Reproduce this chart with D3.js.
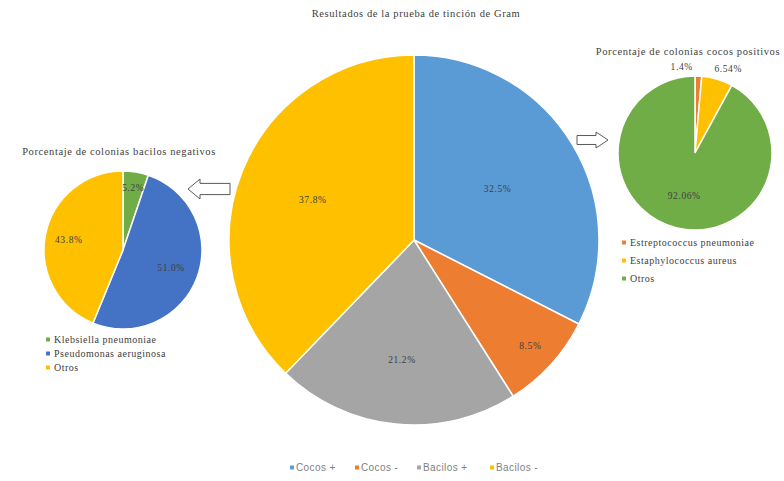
<!DOCTYPE html>
<html>
<head>
<meta charset="utf-8">
<script src="https://cdn.jsdelivr.net/npm/d3@7"></script>
<style>
  body { margin: 0; background: #fff; }
  svg { display: block; font-family: "Liberation Serif", serif; }
</style>
</head>
<body>
<figure id="chart" style="margin:0"></figure>
<script>
// main pie
var mainCats = ["Cocos +", "Cocos -", "Bacilos +", "Bacilos -"];
var mainValues = [32.5, 8.5, 21.2, 37.8];
var mainLabels = ["32.5%", "8.5%", "21.2%", "37.8%"];
var mainColors = ["#5b9bd5", "#ed7d31", "#a5a5a5", "#ffc000"];

// bacilos negativos
var leftCats = ["Klebsiella pneumoniae", "Pseudomonas aeruginosa", "Otros"];
var leftValues = [5.2, 51.0, 43.8];
var leftLabels = ["5.2%", "51.0%", "43.8%"];
var leftColors = ["#70ad47", "#4472c4", "#ffc000"];

// cocos positivos
var rightCats = ["Estreptococcus pneumoniae", "Estaphylococcus aureus", "Otros"];
var rightValues = [1.4, 6.54, 92.06];
var rightLabels = ["1.4%", "6.54%", "92.06%"];
var rightColors = ["#ed7d31", "#ffc000", "#70ad47"];

var dimensions = { width: 784, height: 481 };

var svg = d3.select("figure#chart")
  .append("svg")
  .attr("width", dimensions.width)
  .attr("height", dimensions.height);

var pie = d3.pie().sort(null).value(d => d);

// draws one pie, labelPos = fraction of radius for each label
function drawPie(cx, cy, r, values, labels, colors, labelPos, anchors) {
  var g = svg.append("g").attr("transform", `translate(${cx},${cy})`);
  var arc = d3.arc().innerRadius(0).outerRadius(r);
  var arcs = pie(values);

  g.selectAll("path")
    .data(arcs)
    .enter()
    .append("path")
    .attr("d", arc)
    .attr("fill", (d, i) => colors[i])
    .attr("stroke", "#fff")
    .attr("stroke-width", 1.5);

  g.selectAll("text")
    .data(arcs)
    .enter()
    .append("text")
    .attr("transform", function (d, i) {
      var a = (d.startAngle + d.endAngle) / 2;
      var rr = r * labelPos[i];
      return `translate(${Math.sin(a) * rr},${-Math.cos(a) * rr})`;
    })
    .attr("text-anchor", (d, i) => anchors ? anchors[i] : "middle")
    .attr("dx", (d, i) => anchors && anchors[i] != "middle" ? -6 : 0)
    .attr("dy", "0.35em")
    .attr("font-size", 9.5)
    .attr("letter-spacing", 0.6)
    .attr("fill", "#404040")
    .text((d, i) => labels[i]);
}

drawPie(414, 240, 185, mainValues, mainLabels, mainColors, [0.53, 0.85, 0.65, 0.59]);
drawPie(123, 250, 79, leftValues, leftLabels, leftColors, [0.8, 0.65, 0.7]);
drawPie(695, 153, 77, rightValues, rightLabels, rightColors, [1.12, 1.14, 0.57], ["end", "start", "middle"]);

// titles
function title(x, y, s) {
  svg.append("text")
    .attr("x", x).attr("y", y)
    .attr("text-anchor", "middle")
    .attr("font-size", 10.5)
    .attr("letter-spacing", 0.6)
    .attr("fill", "#404040")
    .text(s);
}
title(416, 17, "Resultados de la prueba de tinción de Gram");
title(119, 155, "Porcentaje de colonias bacilos negativos");
title(688, 55, "Porcentaje de colonias cocos positivos");

// side legends
function drawVLegend(x, y, step, cats, colors) {
  var g = svg.append("g").attr("transform", `translate(${x},${y})`);
  var item = g.selectAll("g")
    .data(cats)
    .enter()
    .append("g")
    .attr("transform", (d, i) => `translate(0,${i * step})`);
  item.append("rect")
    .attr("x", 0).attr("y", -2.5)
    .attr("width", 4).attr("height", 4)
    .attr("fill", (d, i) => colors[i]);
  item.append("text")
    .attr("x", 8).attr("dy", "0.33em")
    .attr("font-size", 10)
    .attr("letter-spacing", 0.5)
    .attr("fill", "#404040")
    .text(d => d);
}

drawVLegend(46, 340, 14, leftCats, leftColors);
drawVLegend(622, 243, 18, rightCats, rightColors);

// bottom legend
var bottomX = [290, 355, 417, 490];
var bl = svg.append("g").attr("transform", "translate(0,468)");
var bItem = bl.selectAll("g")
  .data(mainCats)
  .enter()
  .append("g")
  .attr("transform", (d, i) => `translate(${bottomX[i]},0)`);
bItem.append("rect")
  .attr("x", 0).attr("y", -2.5)
  .attr("width", 4).attr("height", 4)
  .attr("fill", (d, i) => mainColors[i]);
bItem.append("text")
  .attr("x", 6).attr("dy", "0.33em")
  .attr("font-size", 10)
  .attr("letter-spacing", 0.4)
  .attr("font-family", "Liberation Sans, sans-serif")
  .attr("fill", "#7f7f7f")
  .text(d => d);

// hollow block arrows
function blockArrow(x0, x1, cy, h, dir) {
  var head = 12, sh = h * 0.28;
  var pts;
  if (dir > 0) {
    pts = [[x0, cy - sh], [x1 - head, cy - sh], [x1 - head, cy - h / 2], [x1, cy],
           [x1 - head, cy + h / 2], [x1 - head, cy + sh], [x0, cy + sh]];
  } else {
    pts = [[x1, cy - sh], [x0 + head, cy - sh], [x0 + head, cy - h / 2], [x0, cy],
           [x0 + head, cy + h / 2], [x0 + head, cy + sh], [x1, cy + sh]];
  }
  svg.append("path")
    .attr("d", d3.line()(pts) + "Z")
    .attr("fill", "#fff")
    .attr("stroke", "#595959")
    .attr("stroke-width", 1);
}

blockArrow(577, 608, 140, 16, 1);
blockArrow(188, 230, 189, 20, -1);
</script>
</body>
</html>
